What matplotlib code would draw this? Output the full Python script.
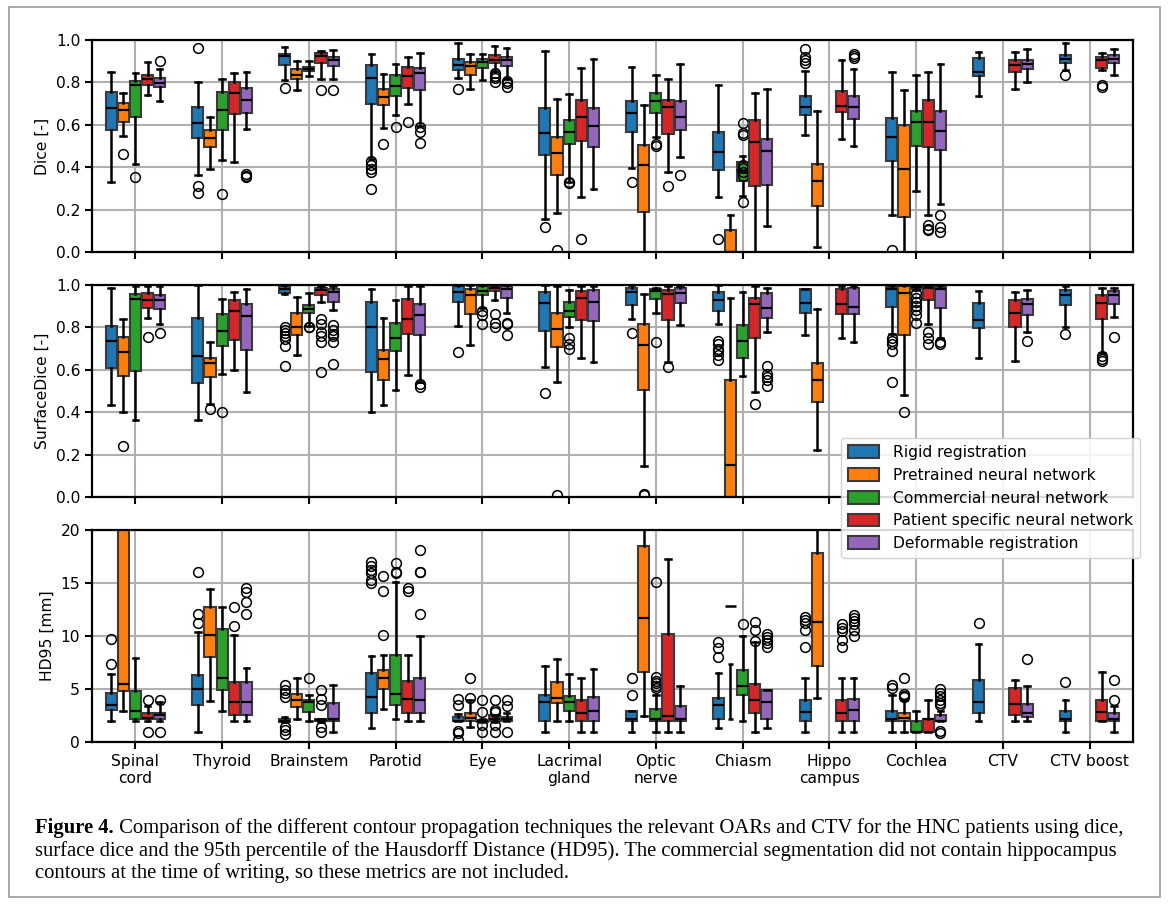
import matplotlib
matplotlib.use("Agg")
import matplotlib.pyplot as plt
from matplotlib.patches import Patch, Rectangle

# ---------------- data ----------------
CATEGORIES = ["Spinal\ncord", "Thyroid", "Brainstem", "Parotid", "Eye", "Lacrimal\ngland",
              "Optic\nnerve", "Chiasm", "Hippo\ncampus", "Cochlea", "CTV", "CTV boost"]
METHODS = ["Rigid registration", "Pretrained neural network", "Commercial neural network",
           "Patient specific neural network", "Deformable registration"]
COLORS = ["#1f77b4", "#ff7f0e", "#2ca02c", "#d62728", "#9467bd"]

# box stats per category: (whisker low, q1, median, q3, whisker high); None = not available
DICE_RIGID = [(0.33, 0.575, 0.68, 0.755, 0.85), (0.362, 0.54, 0.608, 0.682, 0.80),
              (0.81, 0.882, 0.925, 0.933, 0.969), (0.44, 0.70, 0.823, 0.881, 0.936),
              (0.823, 0.859, 0.881, 0.912, 0.987), (0.154, 0.459, 0.56, 0.679, 0.948),
              (0.397, 0.567, 0.658, 0.713, 0.873), (0.259, 0.389, 0.47, 0.567, 0.787),
              (0.553, 0.647, 0.682, 0.734, 0.854), (0.176, 0.431, 0.544, 0.632, 0.85),
              (0.737, 0.831, 0.85, 0.917, 0.945), (0.857, 0.89, 0.912, 0.93, 0.984)]
DICE_RIGID_FL = [[], [0.961, 0.31, 0.28], [0.773], [0.43, 0.41, 0.39, 0.376, 0.298], [0.768],
                 [0.118], [0.329], [0.063], [0.956, 0.92, 0.905, 0.89], [0.008], [], [0.834]]
DICE_PRE = [(0.549, 0.614, 0.669, 0.705, 0.752), (0.392, 0.494, 0.538, 0.575, 0.638),
            (0.765, 0.818, 0.834, 0.862, 0.90), (0.583, 0.693, 0.733, 0.771, 0.838),
            (0.771, 0.834, 0.878, 0.897, 0.933), (0.185, 0.361, 0.466, 0.544, 0.724),
            (0.0, 0.188, 0.412, 0.505, 0.694), (0.0, 0.0, 0.0, 0.105, 0.176),
            (0.024, 0.219, 0.337, 0.415, 0.666), (0.0, 0.165, 0.392, 0.599, 0.765), None, None]
DICE_PRE_FL = [[0.462], [], [], [0.509], [], [0.008], [], [], [], [], [], []]
DICE_COM = [(0.414, 0.635, 0.787, 0.807, 0.842), (0.436, 0.575, 0.671, 0.755, 0.818),
            (0.828, 0.854, 0.862, 0.873, 0.90), (0.647, 0.737, 0.784, 0.834, 0.886),
            (0.812, 0.867, 0.897, 0.912, 0.933), (0.329, 0.509, 0.564, 0.622, 0.745),
            (0.541, 0.658, 0.713, 0.749, 0.834), (0.266, 0.337, 0.381, 0.423, 0.455),
            None, (0.29, 0.502, 0.611, 0.666, 0.834), None, None]
DICE_COM_FL = [[0.353], [0.272], [], [0.588], [], [0.33, 0.325], [0.51, 0.50],
               [0.61, 0.56, 0.55, 0.41, 0.395, 0.375, 0.36, 0.235], [], [], [], []]
DICE_PAT = [(0.741, 0.787, 0.815, 0.834, 0.897), (0.423, 0.65, 0.748, 0.804, 0.842),
            (0.818, 0.89, 0.925, 0.937, 0.948), (0.70, 0.773, 0.828, 0.873, 0.922),
            (0.854, 0.89, 0.906, 0.928, 0.972), (0.259, 0.525, 0.635, 0.716, 0.87),
            (0.376, 0.556, 0.682, 0.718, 0.818), (0.0, 0.31, 0.517, 0.622, 0.752),
            (0.533, 0.661, 0.69, 0.76, 0.906), (0.176, 0.497, 0.611, 0.716, 0.85),
            (0.771, 0.85, 0.881, 0.904, 0.944), (0.857, 0.87, 0.904, 0.92, 0.937)]
DICE_PAT_FL = [[], [], [0.765], [0.611], [0.843, 0.83, 0.82, 0.80], [0.06], [0.309], [], [],
               [0.125, 0.11, 0.105], [], [0.79, 0.78]]
DICE_DEF = [(0.71, 0.776, 0.796, 0.82, 0.862), (0.58, 0.654, 0.718, 0.773, 0.85),
            (0.818, 0.878, 0.904, 0.92, 0.953), (0.596, 0.763, 0.846, 0.87, 0.937),
            (0.815, 0.878, 0.904, 0.92, 0.964), (0.295, 0.494, 0.596, 0.677, 0.912),
            (0.45, 0.577, 0.639, 0.713, 0.889), (0.122, 0.318, 0.475, 0.533, 0.771),
            (0.502, 0.627, 0.682, 0.737, 0.862), (0.227, 0.481, 0.569, 0.666, 0.889),
            (0.803, 0.862, 0.886, 0.904, 0.956), (0.834, 0.89, 0.912, 0.93, 0.959)]
DICE_DEF_FL = [[0.901], [0.366, 0.36, 0.356], [0.765], [0.588, 0.564, 0.514], [0.807, 0.795, 0.78],
               [], [0.364], [], [0.936, 0.925, 0.917], [0.176, 0.118, 0.094], [], []]

SD_RIGID = [(0.434, 0.608, 0.734, 0.807, 0.987), (0.365, 0.536, 0.666, 0.843, 1.0),
            (0.956, 0.964, 0.98, 0.995, 1.0), (0.403, 0.591, 0.80, 0.92, 0.98),
            (0.807, 0.92, 0.969, 0.995, 1.0), (0.611, 0.784, 0.917, 0.967, 1.0),
            (0.839, 0.904, 0.967, 0.987, 1.0), (0.815, 0.878, 0.928, 0.969, 1.0),
            (0.765, 0.87, 0.914, 0.98, 0.98), (0.77, 0.897, 0.98, 0.99, 1.0),
            (0.658, 0.796, 0.834, 0.917, 0.972), (0.803, 0.904, 0.953, 0.976, 0.995)]
SD_RIGID_FL = [[], [], [0.80, 0.79, 0.775, 0.76, 0.745, 0.71, 0.62], [], [0.685], [0.49], [0.773],
               [0.737, 0.72, 0.70, 0.69, 0.67, 0.645], [], [0.752, 0.735, 0.72, 0.69, 0.544], [], [0.771]]
SD_PRE = [(0.403, 0.569, 0.682, 0.755, 0.839), (0.439, 0.564, 0.63, 0.658, 0.732),
          (0.671, 0.763, 0.804, 0.87, 0.944), (0.436, 0.553, 0.65, 0.694, 0.842),
          (0.718, 0.865, 0.951, 0.98, 1.0), (0.544, 0.708, 0.792, 0.87, 0.995),
          (0.146, 0.505, 0.718, 0.818, 0.956), (0.0, 0.0, 0.149, 0.552, 0.94),
          (0.224, 0.45, 0.553, 0.63, 0.889), (0.483, 0.763, 0.96, 0.995, 1.0), None, None]
SD_PRE_FL = [[0.24], [0.415], [], [], [], [0.008], [0.016, 0.008], [], [], [0.40], [], []]
SD_COM = [(0.365, 0.596, 0.932, 0.956, 0.995), (0.58, 0.713, 0.781, 0.862, 0.933),
          (0.807, 0.867, 0.886, 0.904, 0.964), (0.506, 0.69, 0.752, 0.823, 0.928),
          (0.89, 0.951, 0.972, 0.995, 1.0), (0.80, 0.851, 0.878, 0.92, 0.976),
          (0.87, 0.936, 0.972, 0.98, 0.987), (0.569, 0.655, 0.734, 0.812, 0.969),
          None, (0.975, 0.983, 0.99, 0.998, 1.0), None, None]
SD_COM_FL = [[], [0.403], [0.80, 0.80], [], [0.878, 0.86, 0.815], [0.75, 0.72, 0.70], [0.729], [],
             [], [0.96, 0.94, 0.92, 0.90, 0.88, 0.86, 0.82], [], []]
SD_PAT = [(0.842, 0.893, 0.929, 0.964, 0.995), (0.599, 0.74, 0.878, 0.928, 0.969),
          (0.92, 0.953, 0.976, 0.987, 0.995), (0.577, 0.768, 0.839, 0.936, 0.995),
          (0.93, 0.972, 0.987, 1.0, 1.0), (0.658, 0.835, 0.94, 0.972, 0.995),
          (0.638, 0.835, 0.956, 0.976, 0.995), (0.497, 0.749, 0.909, 0.937, 0.995),
          (0.752, 0.862, 0.912, 0.983, 0.995), (0.815, 0.928, 0.987, 0.995, 1.0),
          (0.643, 0.80, 0.87, 0.928, 0.969), (0.679, 0.839, 0.917, 0.951, 0.987)]
SD_PAT_FL = [[0.755], [], [0.838, 0.815, 0.78, 0.76, 0.73, 0.59], [], [0.862, 0.82, 0.80], [],
             [0.611], [0.439], [], [0.776, 0.75, 0.72], [], [0.666, 0.65, 0.643]]
SD_DEF = [(0.818, 0.889, 0.929, 0.951, 0.995), (0.494, 0.693, 0.854, 0.912, 0.98),
          (0.88, 0.92, 0.967, 0.98, 0.995), (0.544, 0.763, 0.859, 0.909, 0.995),
          (0.87, 0.94, 0.98, 0.995, 1.0), (0.635, 0.831, 0.922, 0.976, 0.995),
          (0.812, 0.914, 0.964, 0.987, 0.995), (0.776, 0.843, 0.893, 0.961, 0.987),
          (0.732, 0.865, 0.897, 0.987, 0.995), (0.75, 0.89, 0.983, 0.99, 1.0),
          (0.779, 0.857, 0.912, 0.936, 0.976), (0.851, 0.909, 0.953, 0.972, 0.987)]
SD_DEF_FL = [[0.773], [], [0.81, 0.79, 0.77, 0.76, 0.73, 0.627], [0.535, 0.52], [0.823, 0.815, 0.765],
             [], [], [0.619, 0.58, 0.565, 0.55, 0.525], [], [0.729, 0.72], [0.734], [0.757]]

HD_RIGID = [(1.95, 2.99, 3.53, 4.63, 6.46), (0.94, 3.46, 4.98, 6.36, 10.4),
            (1.89, 1.89, 1.98, 2.2, 2.36), (1.32, 2.77, 4.25, 6.52, 8.09),
            (1.95, 1.95, 1.98, 2.36, 2.6), (0.94, 1.95, 3.78, 4.41, 7.18),
            (0.94, 1.95, 2.14, 2.93, 2.93), (1.35, 2.14, 3.46, 4.19, 6.52),
            (0.94, 1.95, 2.83, 4.0, 6.05), (0.94, 1.95, 2.14, 2.93, 4.41),
            (1.95, 2.74, 3.78, 5.89, 9.29), (0.94, 1.95, 2.14, 2.93, 4.0)]
HD_RIGID_FL = [[9.7, 7.4], [16.06, 12.03, 11.18], [5.35, 4.95, 4.6, 4.25, 1.42, 1.1, 0.8],
               [17.0, 16.6, 16.2, 15.9, 15.3, 15.0], [4.1, 3.46, 1.0, 0.85, 0.16], [], [6.05, 4.47],
               [9.45, 8.9, 8.03], [11.8, 11.5, 11.2, 10.6, 9.0], [5.35, 5.1], [11.18], [5.67]]
HD_PRE = [(2.9, 4.82, 5.45, 30.0, 40.0), (3.84, 8.03, 10.14, 12.76, 14.4),
          (2.2, 3.31, 4.0, 4.5, 6.05), (3.15, 4.98, 6.05, 6.83, 8.19),
          (1.42, 1.95, 2.27, 2.77, 3.94), (1.95, 3.72, 4.16, 5.67, 7.81),
          (2.43, 6.61, 11.72, 18.52, 30.0), None,
          (4.16, 7.18, 11.34, 17.86, 30.0), (0.94, 1.95, 2.27, 2.77, 3.94), None, None]
HD_PRE_FL = [[], [], [], [15.7, 14.2, 10.1], [6.05, 4.16], [], [], [], [], [6.05, 4.57, 4.35, 4.2], [], []]
# Chiasm, pretrained network: only a lower whisker (low cap, top cap) and a dash are visible
HD_PRE_CHIASM = [2.2, 7.34, 12.85]
HD_COM = [(1.95, 2.2, 2.93, 4.82, 7.94), (2.9, 4.88, 6.05, 10.65, 12.76),
          (1.95, 2.83, 3.78, 3.94, 4.41), (2.2, 3.53, 4.57, 8.25, 15.06),
          (1.89, 1.89, 1.95, 2.1, 2.2), (1.95, 2.9, 3.78, 4.35, 6.39),
          (0.94, 1.95, 2.14, 3.15, 4.41), (1.95, 4.47, 5.29, 6.83, 10.0),
          None, (0.94, 0.94, 0.94, 1.95, 2.9), None, None]
HD_COM_FL = [[], [], [6.05], [16.85, 16.0, 15.9], [4.0, 2.83, 1.57, 0.94], [],
             [15.1, 6.1, 5.8, 5.6, 5.3, 5.05], [11.1], [], [], [], []]
HD_PAT = [(1.95, 2.2, 2.27, 2.77, 3.37), (1.95, 2.58, 3.78, 5.67, 10.14),
          (1.89, 1.98, 2.05, 2.14, 2.14), (1.95, 2.77, 4.1, 5.76, 8.25),
          (1.9, 1.95, 2.2, 2.52, 2.58), (0.94, 1.95, 2.77, 3.94, 6.05),
          (0.94, 1.95, 2.43, 10.17, 17.3), (0.94, 2.77, 4.0, 5.45, 9.45),
          (0.94, 1.95, 2.77, 4.0, 6.05), (0.94, 0.94, 2.14, 2.2, 4.0),
          (1.95, 2.58, 3.56, 5.13, 5.89), (1.95, 1.95, 2.83, 4.0, 6.61)]
HD_PAT_FL = [[3.94, 0.94], [12.76, 10.96], [4.88, 4.1, 3.46, 1.42, 0.94], [14.55, 14.24],
             [4.0, 3.0, 2.8, 1.57, 0.94], [], [], [11.28, 10.55, 9.5],
             [11.1, 10.8, 10.5, 9.6, 9.0], [], [], []]
HD_DEF = [(1.95, 2.14, 2.52, 2.74, 3.78), (1.95, 2.58, 3.78, 5.67, 6.99),
          (0.94, 1.95, 2.14, 3.72, 5.35), (1.95, 2.77, 4.0, 6.05, 9.98),
          (1.95, 1.95, 2.14, 2.36, 2.77), (0.94, 1.95, 2.93, 4.25, 6.87),
          (0.94, 1.95, 2.2, 3.4, 5.29), (1.35, 2.14, 3.78, 4.94, 4.94),
          (0.94, 1.95, 3.05, 4.03, 6.05), (1.95, 1.95, 1.95, 2.58, 2.9),
          (1.95, 2.36, 2.74, 3.56, 5.29), (0.94, 1.95, 2.2, 2.77, 3.4)]
HD_DEF_FL = [[3.94, 0.94], [14.49, 14.11, 13.23, 12.03], [], [18.1, 16.06, 16.0, 12.03],
             [4.0, 3.4, 0.94], [], [], [10.2, 9.9, 9.6, 9.3, 9.0],
             [12.0, 11.7, 11.4, 11.1, 10.6, 10.0], [5.04, 4.6, 4.3, 4.0, 3.7, 3.5, 1.0, 0.88],
             [7.81], [5.89, 4.0]]

CAPTION_BOLD = "Figure 4."
CAPTION_LINES = [
    " Comparison of the different contour propagation techniques the relevant OARs and CTV for the HNC patients using dice,",
    "surface dice and the 95th percentile of the Hausdorff Distance (HD95). The commercial segmentation did not contain hippocampus",
    "contours at the time of writing, so these metrics are not included.",
]

# ---------------- drawing ----------------
W, H = 1168, 905
fig = plt.figure(figsize=(W / 100, H / 100), dpi=100)
FS = 11.2

def rect(l, t, r, b):
    return [l / W, 1 - b / H, (r - l) / W, (b - t) / H]

ax_d = fig.add_axes(rect(92, 40, 1133, 252))
ax_s = fig.add_axes(rect(92, 285, 1133, 497))
ax_h = fig.add_axes(rect(92, 530, 1133, 742))

OFFSET = 0.14
BOXW = 0.128
EDGE = "#3a3a3a"

def draw(ax, stat_lists, flier_lists):
    for j, (sl, fl) in enumerate(zip(stat_lists, flier_lists)):
        stats, pos = [], []
        for i, (s, f) in enumerate(zip(sl, fl)):
            if s is None:
                continue
            lo, q1, med, q3, hi = s
            stats.append(dict(whislo=lo, q1=q1, med=med, q3=q3, whishi=hi, fliers=f))
            pos.append(i + (j - 2) * OFFSET)
        ax.bxp(stats, positions=pos, widths=BOXW, patch_artist=True, manage_ticks=False,
               boxprops=dict(facecolor=COLORS[j], edgecolor=EDGE, linewidth=1.5),
               medianprops=dict(color="black", linewidth=1.6),
               whiskerprops=dict(color="black", linewidth=1.8),
               capprops=dict(color="black", linewidth=1.8),
               flierprops=dict(marker="o", markerfacecolor="none", markeredgecolor="black",
                               markersize=7, markeredgewidth=1.1))

draw(ax_d, [DICE_RIGID, DICE_PRE, DICE_COM, DICE_PAT, DICE_DEF],
     [DICE_RIGID_FL, DICE_PRE_FL, DICE_COM_FL, DICE_PAT_FL, DICE_DEF_FL])
draw(ax_s, [SD_RIGID, SD_PRE, SD_COM, SD_PAT, SD_DEF],
     [SD_RIGID_FL, SD_PRE_FL, SD_COM_FL, SD_PAT_FL, SD_DEF_FL])
draw(ax_h, [HD_RIGID, HD_PRE, HD_COM, HD_PAT, HD_DEF],
     [HD_RIGID_FL, HD_PRE_FL, HD_COM_FL, HD_PAT_FL, HD_DEF_FL])

# special chiasm pretrained HD95 marks
cx = CATEGORIES.index("Chiasm") + (1 - 2) * OFFSET
ax_h.vlines(cx, HD_PRE_CHIASM[0], HD_PRE_CHIASM[1], color="black", lw=1.8)
ax_h.hlines(HD_PRE_CHIASM[:2], cx - BOXW / 4, cx + BOXW / 4, color="black", lw=1.8)
ax_h.hlines(HD_PRE_CHIASM[2], cx - BOXW / 2, cx + BOXW / 2, color="black", lw=1.8)

for ax, lab, lim, ticks, fmt in [
        (ax_d, "Dice [-]", (0, 1), [0, 0.2, 0.4, 0.6, 0.8, 1.0], "{:.1f}"),
        (ax_s, "SurfaceDice [-]", (0, 1), [0, 0.2, 0.4, 0.6, 0.8, 1.0], "{:.1f}"),
        (ax_h, "HD95 [mm]", (0, 20), [0, 5, 10, 15, 20], "{:.0f}")]:
    ax.set_xlim(-0.5, len(CATEGORIES) - 0.5)
    ax.set_ylim(*lim)
    ax.set_yticks(ticks)
    ax.set_yticklabels([fmt.format(t) for t in ticks], fontsize=FS)
    ax.set_ylabel(lab, fontsize=FS)
    ax.set_xticks(range(len(CATEGORIES)))
    ax.grid(True, color="#b0b0b0", linewidth=1.5)
    ax.set_axisbelow(True)
    for sp in ax.spines.values():
        sp.set_linewidth(1.6)
    ax.tick_params(width=1.5, length=5)
    if ax is ax_h:
        ax.set_xticklabels(CATEGORIES, fontsize=FS)
    else:
        ax.set_xticklabels([])

fig.align_ylabels([ax_d, ax_s, ax_h])

handles = [Patch(facecolor=c, edgecolor=EDGE, linewidth=1.5) for c in COLORS]
fig.legend(handles, METHODS, loc="upper right", bbox_to_anchor=(1140 / W, 1 - 438 / H),
           fontsize=FS, framealpha=0.85, edgecolor="#cccccc", borderaxespad=0.0,
           handlelength=2.0, handleheight=0.9, labelspacing=0.5, handletextpad=0.9,
           borderpad=0.45)

# outer frame
fig.add_artist(Rectangle((9 / W, 1 - 897 / H), (1160 - 9) / W, (897 - 7) / H,
                         transform=fig.transFigure, fill=False, edgecolor="#9a9a9a", linewidth=1.2))

# caption
CAP_FS = 14.85
serif = ["Liberation Serif", "DejaVu Serif"]
tb = fig.text(35 / W, 1 - 828 / H, CAPTION_BOLD, fontsize=CAP_FS, fontweight="bold",
              family=serif, va="center", ha="left")
fig.canvas.draw()
bb = tb.get_window_extent()
fig.text(bb.x1 / W, 1 - 828 / H, CAPTION_LINES[0], fontsize=CAP_FS, family=serif,
         va="center", ha="left")
fig.text(35 / W, 1 - 851 / H, CAPTION_LINES[1], fontsize=CAP_FS, family=serif, va="center", ha="left")
fig.text(35 / W, 1 - 873 / H, CAPTION_LINES[2], fontsize=CAP_FS, family=serif, va="center", ha="left")

fig.savefig("out.png", dpi=100)
